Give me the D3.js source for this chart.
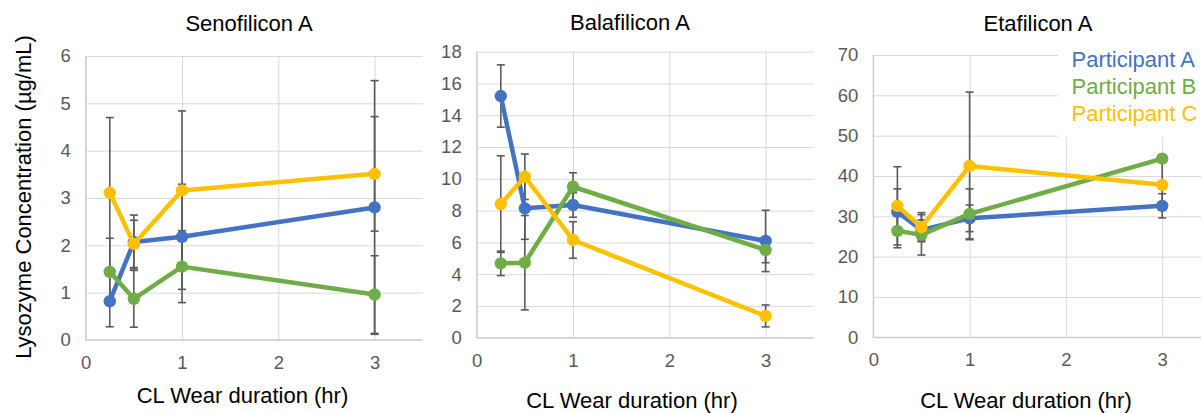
<!DOCTYPE html>
<html>
<head>
<meta charset="utf-8">
<script src="https://cdn.jsdelivr.net/npm/d3@7/dist/d3.min.js"></script>
<style>
  html, body { margin: 0; padding: 0; background: #fff; }
  svg { display: block; font-family: "Liberation Sans", Arial, sans-serif; }
</style>
</head>
<body>
<svg id="chart" width="1201" height="413"></svg>
<script>
// ---------- data ----------
const xValues = [0.25, 0.5, 1, 3];
const xTicks = [0, 1, 2, 3];
const participants = ["Participant A", "Participant B", "Participant C"];
const panelTitles = ["Senofilicon A", "Balafilicon A", "Etafilicon A"];
const yTitle = "Lysozyme Concentration (µg/mL)";
const xTitle = "CL Wear duration (hr)";

const senoTicks = [0, 1, 2, 3, 4, 5, 6];
const senoMean = [[0.82, 2.07, 2.18, 2.80], [1.44, 0.87, 1.55, 0.96], [3.11, 2.03, 3.16, 3.51]];
const senoErr  = [[0.54, 0.57, 1.11, 2.68], [0.71, 0.60, 0.76, 0.82], [1.59, 0.50, 1.68, 1.21]];

const balaTicks = [0, 2, 4, 6, 8, 10, 12, 14, 16, 18];
const balaMean = [[15.21, 8.14, 8.35, 6.09], [4.68, 4.72, 9.50, 5.52], [8.41, 10.13, 6.15, 1.37]];
const balaErr  = [[1.96, 1.95, 0.77, 1.93], [0.77, 2.97, 0.88, 0.80], [3.04, 1.43, 1.15, 0.69]];

const etaTicks = [0, 10, 20, 30, 40, 50, 60, 70];
const etaMean = [[31.1, 26.6, 29.5, 32.6], [26.4, 25.4, 30.6, 44.3], [32.6, 27.3, 42.5, 37.8]];
const etaErr  = [[5.7, 2.5, 3.3, 3.0], [4.2, 5.0, 6.2, 0.5], [9.7, 3.6, 18.3, 6.3]];

const colors = ["#4472C4", "#70AD47", "#FFC000"];

// ---------- layout ----------
const panels = [
  { title: panelTitles[0], mean: senoMean, err: senoErr, ticks: senoTicks,
    left: 85.7, top: 56, bottom: 340, titleX: 249, titleY: 31, xtX: 242.5, xtY: 403 },
  { title: panelTitles[1], mean: balaMean, err: balaErr, ticks: balaTicks,
    left: 476.7, top: 51.7, bottom: 337.7, titleX: 630, titleY: 30, xtX: 632, xtY: 407.5 },
  { title: panelTitles[2], mean: etaMean, err: etaErr, ticks: etaTicks,
    left: 873.3, top: 55, bottom: 337.3, titleX: 1038, titleY: 30.5, xtX: 1026, xtY: 407.5 }
];
const unitW = 96.3;

const svg = d3.select("#chart");

panels.forEach((p, pi) => {
  const yMax = p.ticks[p.ticks.length - 1];
  const x = d3.scaleLinear().domain([0, 3.5]).range([p.left, p.left + 3.5 * unitW]);
  const y = d3.scaleLinear().domain([0, yMax]).range([p.bottom, p.top]);
  const g = svg.append("g");

  // horizontal grid
  g.append("g")
    .attr("transform", `translate(${p.left},0)`)
    .call(d3.axisLeft(y).tickValues(p.ticks).tickSize(-(3.5 * unitW)).tickFormat(d3.format("d")).tickPadding(15))
    .call(a => a.select(".domain").remove())
    .call(a => a.selectAll(".tick line").attr("stroke", "#d9d9d9").attr("stroke-width", 1))
    .call(a => a.selectAll(".tick text").attr("fill", "#595959").attr("font-size", 18.5)
      .attr("font-family", "'Liberation Sans', Arial, sans-serif"));

  // vertical grid + x labels
  g.append("g")
    .attr("transform", `translate(0,${p.bottom})`)
    .call(d3.axisBottom(x).tickValues(xTicks).tickSize(-(p.bottom - p.top)).tickFormat(d3.format("d")).tickPadding(16))
    .call(a => a.select(".domain").remove())
    .call(a => a.selectAll(".tick line").attr("stroke", "#d9d9d9").attr("stroke-width", 1))
    .call(a => a.selectAll(".tick text").attr("fill", "#595959").attr("font-size", 18.5)
      .attr("font-family", "'Liberation Sans', Arial, sans-serif"));

  // axis lines
  g.append("line").attr("x1", x(0)).attr("x2", x(0)).attr("y1", y(yMax)).attr("y2", y(0))
    .attr("stroke", "#cfcfcf").attr("stroke-width", 1.3);
  g.append("line").attr("x1", x(0)).attr("x2", x(3.5)).attr("y1", y(0)).attr("y2", y(0))
    .attr("stroke", "#cfcfcf").attr("stroke-width", 1.3);

  // error bars
  const eg = g.append("g").attr("stroke", "#5a5a5a").attr("stroke-width", 1.6);
  p.mean.forEach((series, si) => {
    series.forEach((v, i) => {
      const e = p.err[si][i];
      const cx = x(xValues[i]);
      eg.append("line").attr("x1", cx).attr("x2", cx).attr("y1", y(v + e)).attr("y2", y(v - e));
      eg.append("line").attr("x1", cx - 4).attr("x2", cx + 4).attr("y1", y(v + e)).attr("y2", y(v + e));
      eg.append("line").attr("x1", cx - 4).attr("x2", cx + 4).attr("y1", y(v - e)).attr("y2", y(v - e));
    });
  });

  // series lines + markers
  const line = d3.line().x((d, i) => x(xValues[i])).y(d => y(d));
  p.mean.forEach((series, si) => {
    g.append("path").datum(series).attr("d", line).attr("fill", "none")
      .attr("stroke", colors[si]).attr("stroke-width", 4.5).attr("stroke-linejoin", "round");
    g.selectAll(null).data(series).enter().append("circle")
      .attr("cx", (d, i) => x(xValues[i])).attr("cy", d => y(d)).attr("r", 6.2)
      .attr("fill", colors[si]);
  });

  // title
  svg.append("text").attr("x", p.titleX).attr("y", p.titleY).attr("text-anchor", "middle")
    .attr("font-size", 22).attr("fill", "#000").text(p.title);
  // x title
  svg.append("text").attr("x", p.xtX).attr("y", p.xtY).attr("text-anchor", "middle")
    .attr("font-size", 22).attr("fill", "#000").text(xTitle);
});

// y title
svg.append("text").attr("transform", "translate(30.5,197) rotate(-90)")
  .attr("text-anchor", "middle").attr("font-size", 22).attr("fill", "#000").text(yTitle);

// legend
const lg = svg.append("g");
lg.append("rect").attr("x", 1058).attr("y", 40).attr("width", 150).attr("height", 97).attr("fill", "#fff");
participants.forEach((name, i) => {
  lg.append("text").attr("x", 1071.5).attr("y", 67 + i * 27).attr("font-size", 22)
    .attr("fill", colors[i]).text(name);
});
</script>
</body>
</html>
